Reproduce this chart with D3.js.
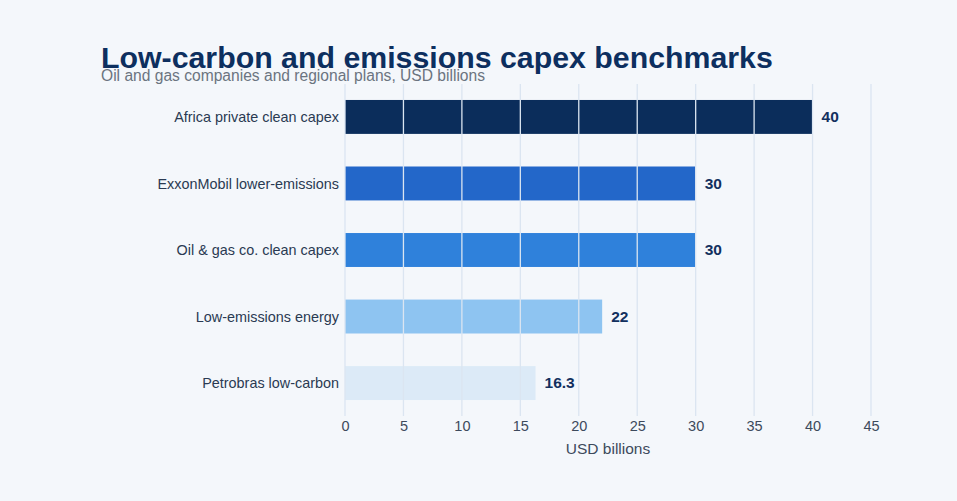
<!DOCTYPE html>
<html>
<head>
<meta charset="utf-8">
<script src="https://cdn.jsdelivr.net/npm/d3@7"></script>
<style>
  html, body { margin: 0; padding: 0; background: #f4f7fb; }
  svg { display: block; font-family: "Liberation Sans", Arial, sans-serif; }
</style>
</head>
<body>
<div id="chart"></div>
<script>
// data
var Categories = ["Africa private clean capex", "ExxonMobil lower-emissions", "Oil & gas co. clean capex", "Low-emissions energy", "Petrobras low-carbon"];
var Values = [40, 30, 30, 22, 16.3];
var ValueLabels = ["40", "30", "30", "22", "16.3"];
var BarColors = ["#0b2d5b", "#2367c9", "#2f81db", "#8ec4f1", "#dceaf7"];
var TickValues = [0, 5, 10, 15, 20, 25, 30, 35, 40, 45];

var Width = 957, Height = 501;
var Margin = { top: 84, right: 86, bottom: 85, left: 345 };

var Canvas = d3.select("#chart").append("svg")
    .attr("width", Width)
    .attr("height", Height)
    .style("background-color", "#f4f7fb");

// title + subtitle
Canvas.append("text")
    .attr("x", 101).attr("y", 68)
    .attr("font-size", 30.3).attr("font-weight", "bold")
    .attr("fill", "#0d2f5f")
    .text("Low-carbon and emissions capex benchmarks");

Canvas.append("text")
    .attr("x", 101).attr("y", 81)
    .attr("font-size", 15.6)
    .attr("fill", "#6b7480")
    .text("Oil and gas companies and regional plans, USD billions");

var XScale = d3.scaleLinear()
    .domain([0, 45])
    .range([Margin.left, Width - Margin.right]);

var YScale = d3.scaleBand()
    .domain(Categories)
    .range([Margin.top, Height - Margin.bottom])
    .paddingInner(0.49)
    .paddingOuter(0.24);

var Rows = Categories.map((c, i) => ({ Name: c, Value: Values[i], Label: ValueLabels[i], Color: BarColors[i] }));

// bars
Canvas.append("g")
    .selectAll("rect")
    .data(Rows)
    .enter()
    .append("rect")
    .attr("x", XScale(0))
    .attr("y", d => YScale(d.Name))
    .attr("width", d => XScale(d.Value) - XScale(0))
    .attr("height", YScale.bandwidth())
    .attr("fill", d => d.Color);

// gridlines sit over the bars
var GridBottom = Height - Margin.bottom;
Canvas.append("g")
    .selectAll("line")
    .data(TickValues)
    .enter()
    .append("line")
    .attr("x1", d => XScale(d)).attr("x2", d => XScale(d))
    .attr("y1", Margin.top).attr("y2", GridBottom)
    .attr("stroke", "#dbe5f1")
    .attr("stroke-width", 1.3);

// x axis (ticks only, no domain line)
var BottomAxis = d3.axisBottom(XScale)
    .tickValues(TickValues)
    .tickSize(0)
    .tickPadding(0)
    .tickFormat(d3.format("d"));

var AxisG = Canvas.append("g")
    .attr("transform", "translate(0," + (GridBottom + 5) + ")")
    .call(BottomAxis);
AxisG.select(".domain").remove();
AxisG.selectAll("text")
    .attr("font-size", 14.5)
    .attr("fill", "#3d4a5c")
    .attr("font-family", "Liberation Sans, Arial, sans-serif");

Canvas.append("text")
    .attr("x", XScale(22.5)).attr("y", 454)
    .attr("text-anchor", "middle")
    .attr("font-size", 15.5)
    .attr("fill", "#3d4a5c")
    .text("USD billions");

// category labels
Canvas.append("g")
    .selectAll("text")
    .data(Rows)
    .enter()
    .append("text")
    .attr("x", XScale(0) - 6)
    .attr("y", d => YScale(d.Name) + YScale.bandwidth() / 2)
    .attr("dy", "0.35em")
    .attr("text-anchor", "end")
    .attr("font-size", 14.4)
    .attr("fill", "#2a3a52")
    .text(d => d.Name);

// value labels
Canvas.append("g")
    .selectAll("text")
    .data(Rows)
    .enter()
    .append("text")
    .attr("x", d => XScale(d.Value) + 9)
    .attr("y", d => YScale(d.Name) + YScale.bandwidth() / 2)
    .attr("dy", "0.35em")
    .attr("font-size", 15.5)
    .attr("font-weight", "bold")
    .attr("fill", "#12305e")
    .text(d => d.Label);
</script>
</body>
</html>
